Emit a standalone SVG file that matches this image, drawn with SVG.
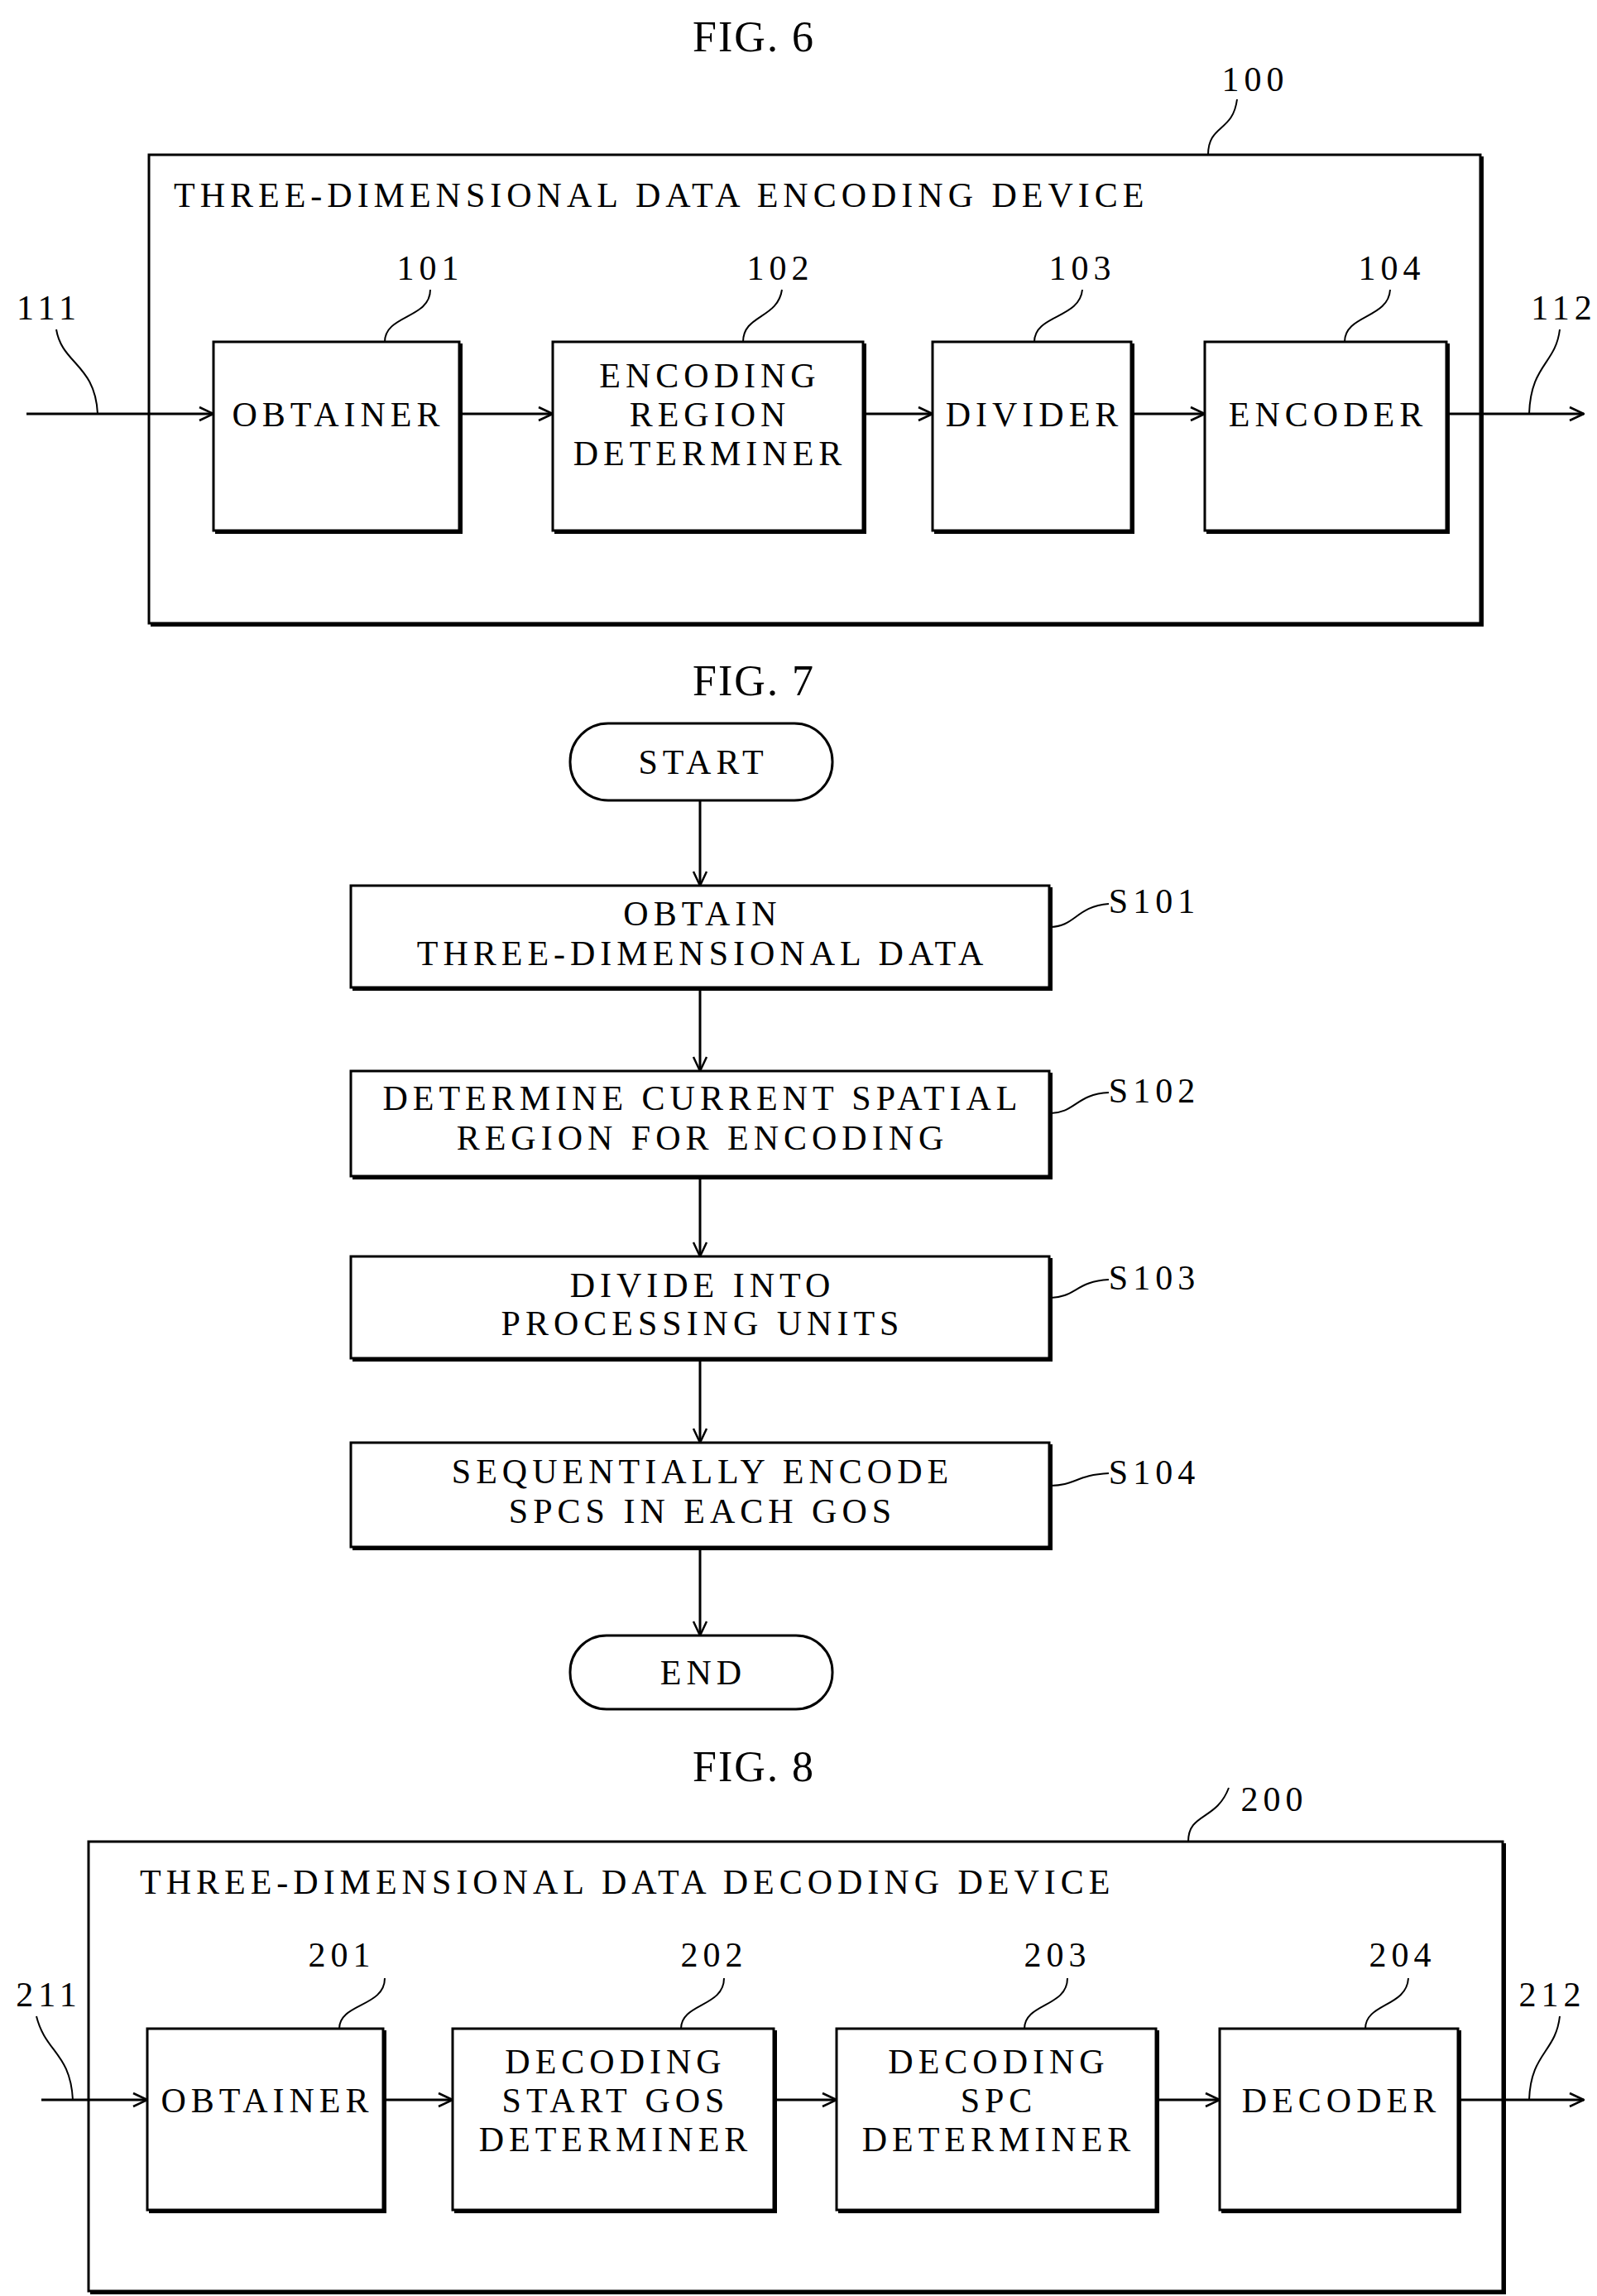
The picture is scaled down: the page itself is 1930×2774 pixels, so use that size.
<svg xmlns="http://www.w3.org/2000/svg" width="1930" height="2774" viewBox="0 0 1930 2774">
<defs>
<style>
text{font-family:"Liberation Serif","DejaVu Serif",serif;font-size:42px;letter-spacing:6px;fill:#000;text-anchor:middle}
.t{text-anchor:start}
.fig{font-size:52px;letter-spacing:2px}
.box{fill:#fff;stroke:#000;stroke-width:3}
.sh{fill:none;stroke:#000;stroke-width:4}
.ln{fill:none;stroke:#000;stroke-width:3}
.ld{fill:none;stroke:#000;stroke-width:2}
</style>
<marker id="ar" viewBox="0 0 20 20" refX="19" refY="10" markerWidth="20" markerHeight="20" markerUnits="userSpaceOnUse" orient="auto"><path d="M2,2 L19,10 L2,18" fill="none" stroke="#000" stroke-width="2.5"/></marker>
</defs>
<text class="fig" x="911" y="62">FIG. 6</text>
<text class="fig" x="911" y="840">FIG. 7</text>
<text class="fig" x="911" y="2152">FIG. 8</text>

<g id="dev100"><rect class="box" x="180" y="187" width="1609" height="566"/><path class="sh" d="M1791,189 V755 H182"/>
<text class="t" x="210" y="250">THREE-DIMENSIONAL DATA ENCODING DEVICE</text>
<text x="1517" y="110">100</text></g>
<g id="n101"><rect class="box" x="258" y="413" width="297" height="228"/><path class="sh" d="M557,415 V643 H260"/><text x="409" y="515">OBTAINER</text><text x="520" y="338">101</text></g>
<g id="n102"><rect class="box" x="668" y="413" width="375" height="228"/><path class="sh" d="M1045,415 V643 H670"/><text x="858" y="468">ENCODING</text><text x="858" y="515">REGION</text><text x="858" y="562">DETERMINER</text><text x="943" y="338">102</text></g>
<g id="n103"><rect class="box" x="1127" y="413" width="240" height="228"/><path class="sh" d="M1369,415 V643 H1129"/><text x="1250" y="515">DIVIDER</text><text x="1308" y="338">103</text></g>
<g id="n104"><rect class="box" x="1456" y="413" width="292" height="228"/><path class="sh" d="M1750,415 V643 H1458"/><text x="1605" y="515">ENCODER</text><text x="1682" y="338">104</text></g>
<text x="59" y="386">111</text><text x="1890" y="386">112</text>

<g id="start"><rect class="box" x="689" y="874" width="317" height="93" rx="46"/><text x="850" y="935">START</text></g>
<g id="s101"><rect class="box" x="424" y="1070" width="844" height="123"/><path class="sh" d="M1270,1072 V1195 H426"/><text x="849" y="1118">OBTAIN</text><text x="849" y="1166">THREE-DIMENSIONAL DATA</text><text x="1395" y="1103">S101</text></g>
<g id="s102"><rect class="box" x="424" y="1294" width="844" height="127"/><path class="sh" d="M1270,1296 V1423 H426"/><text x="849" y="1341">DETERMINE CURRENT SPATIAL</text><text x="849" y="1389">REGION FOR ENCODING</text><text x="1395" y="1332">S102</text></g>
<g id="s103"><rect class="box" x="424" y="1518" width="844" height="123"/><path class="sh" d="M1270,1520 V1643 H426"/><text x="849" y="1567">DIVIDE INTO</text><text x="849" y="1613">PROCESSING UNITS</text><text x="1395" y="1558">S103</text></g>
<g id="s104"><rect class="box" x="424" y="1743" width="844" height="126"/><path class="sh" d="M1270,1745 V1871 H426"/><text x="849" y="1792">SEQUENTIALLY ENCODE</text><text x="849" y="1840">SPCS IN EACH GOS</text><text x="1395" y="1793">S104</text></g>
<g id="end"><rect class="box" x="689" y="1976" width="317" height="89" rx="44"/><text x="850" y="2035">END</text></g>

<g id="dev200"><rect class="box" x="107" y="2225" width="1709" height="543"/><path class="sh" d="M1818,2227 V2770 H109"/>
<text class="t" x="169" y="2288">THREE-DIMENSIONAL DATA DECODING DEVICE</text>
<text x="1540" y="2188">200</text></g>
<g id="n201"><rect class="box" x="178" y="2451" width="285" height="219"/><path class="sh" d="M465,2453 V2672 H180"/><text x="323" y="2552">OBTAINER</text><text x="413" y="2376">201</text></g>
<g id="n202"><rect class="box" x="547" y="2451" width="388" height="219"/><path class="sh" d="M937,2453 V2672 H549"/><text x="744" y="2505">DECODING</text><text x="744" y="2552">START GOS</text><text x="744" y="2599">DETERMINER</text><text x="863" y="2376">202</text></g>
<g id="n203"><rect class="box" x="1011" y="2451" width="386" height="219"/><path class="sh" d="M1399,2453 V2672 H1013"/><text x="1207" y="2505">DECODING</text><text x="1207" y="2552">SPC</text><text x="1207" y="2599">DETERMINER</text><text x="1278" y="2376">203</text></g>
<g id="n204"><rect class="box" x="1474" y="2451" width="288" height="219"/><path class="sh" d="M1764,2453 V2672 H1476"/><text x="1621" y="2552">DECODER</text><text x="1695" y="2376">204</text></g>
<text x="59" y="2424">211</text><text x="1876" y="2424">212</text>

<g id="connectors">
<path class="ln" marker-end="url(#ar)" d="M32,500 H258"/>
<path class="ln" marker-end="url(#ar)" d="M555,500 H668"/>
<path class="ln" marker-end="url(#ar)" d="M1043,500 H1127"/>
<path class="ln" marker-end="url(#ar)" d="M1367,500 H1456"/>
<path class="ln" marker-end="url(#ar)" d="M1748,500 H1914"/>
<path class="ln" marker-end="url(#ar)" d="M846,967 V1070"/>
<path class="ln" marker-end="url(#ar)" d="M846,1193 V1294"/>
<path class="ln" marker-end="url(#ar)" d="M846,1421 V1518"/>
<path class="ln" marker-end="url(#ar)" d="M846,1641 V1743"/>
<path class="ln" marker-end="url(#ar)" d="M846,1869 V1976"/>
<path class="ln" marker-end="url(#ar)" d="M50,2537 H178"/>
<path class="ln" marker-end="url(#ar)" d="M463,2537 H547"/>
<path class="ln" marker-end="url(#ar)" d="M935,2537 H1011"/>
<path class="ln" marker-end="url(#ar)" d="M1397,2537 H1474"/>
<path class="ln" marker-end="url(#ar)" d="M1762,2537 H1914"/>
<path class="ld" d="M1460,187 C1460,150 1490,160 1495,120"/>
<path class="ld" d="M465,413 C465,380 520,385 520,350"/>
<path class="ld" d="M898,413 C898,380 940,385 945,350"/>
<path class="ld" d="M1250,413 C1250,380 1305,385 1308,350"/>
<path class="ld" d="M1625,413 C1625,380 1678,385 1680,350"/>
<path class="ld" d="M68,398 C75,440 115,440 118,500"/>
<path class="ld" d="M1885,398 C1880,440 1850,440 1848,500"/>
<path class="ld" d="M1268,1120 C1300,1120 1300,1095 1340,1092"/>
<path class="ld" d="M1268,1345 C1300,1345 1300,1322 1340,1320"/>
<path class="ld" d="M1268,1568 C1300,1568 1300,1548 1340,1546"/>
<path class="ld" d="M1268,1795 C1300,1795 1300,1782 1340,1780"/>
<path class="ld" d="M1436,2225 C1436,2190 1470,2200 1485,2160"/>
<path class="ld" d="M410,2451 C410,2420 465,2425 465,2390"/>
<path class="ld" d="M823,2451 C823,2420 875,2425 875,2390"/>
<path class="ld" d="M1238,2451 C1238,2420 1290,2425 1290,2390"/>
<path class="ld" d="M1650,2451 C1650,2420 1700,2425 1702,2390"/>
<path class="ld" d="M44,2436 C55,2480 85,2480 88,2537"/>
<path class="ld" d="M1885,2436 C1880,2480 1850,2480 1848,2537"/>
</g>
</svg>
